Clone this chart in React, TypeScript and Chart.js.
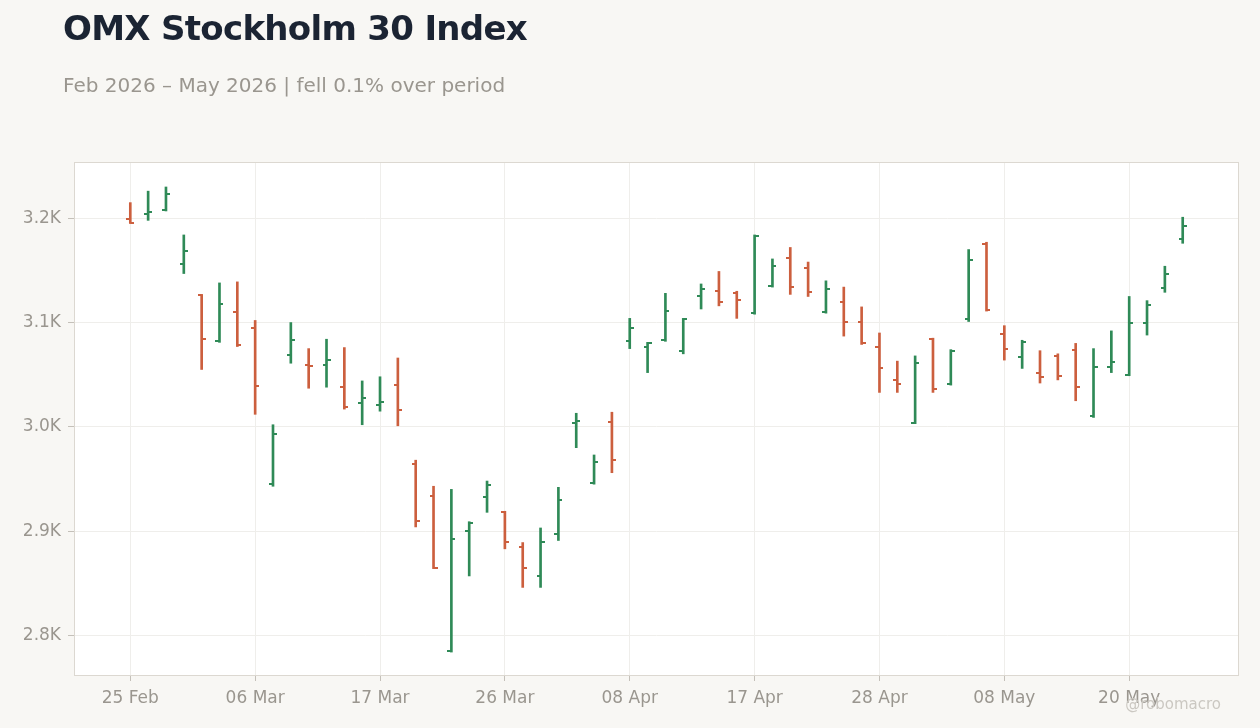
import Chart from "chart.js/auto";
import { useEffect, useRef } from "react";

// trading days, Feb–May 2026
const dates = [
  "25 Feb", "26 Feb", "27 Feb", "02 Mar", "03 Mar", "04 Mar", "05 Mar", "06 Mar",
  "09 Mar", "10 Mar", "11 Mar", "12 Mar", "13 Mar", "16 Mar", "17 Mar", "18 Mar",
  "19 Mar", "20 Mar", "23 Mar", "24 Mar", "25 Mar", "26 Mar", "27 Mar", "30 Mar",
  "31 Mar", "01 Apr", "02 Apr", "07 Apr", "08 Apr", "09 Apr", "10 Apr", "13 Apr",
  "14 Apr", "15 Apr", "16 Apr", "17 Apr", "20 Apr", "21 Apr", "22 Apr", "23 Apr",
  "24 Apr", "27 Apr", "28 Apr", "29 Apr", "30 Apr", "04 May", "05 May", "06 May",
  "07 May", "08 May", "11 May", "12 May", "13 May", "15 May", "18 May", "19 May",
  "20 May", "21 May", "22 May", "25 May",
];

const opens = [
  3199, 3204, 3208, 3156, 3126, 3082, 3110, 3095, 2945, 3069,
  3059, 3059, 3038, 3023, 3021, 3040, 2964, 2934, 2785, 2900,
  2933, 2918, 2885, 2857, 2897, 3004, 2946, 3005, 3082, 3077,
  3083, 3073, 3125, 3130, 3128, 3109, 3135, 3162, 3152, 3110,
  3120, 3101, 3077, 3045, 3004, 3084, 3041, 3103, 3175, 3089,
  3067, 3052, 3068, 3074, 3010, 3057, 3050, 3100, 3133, 3180,
];
const highs = [
  3215, 3226, 3230, 3184, 3127, 3138, 3139, 3102, 3002, 3100,
  3075, 3084, 3076, 3044, 3048, 3066, 2968, 2943, 2940, 2909,
  2948, 2919, 2889, 2903, 2942, 3013, 2973, 3014, 3104, 3081,
  3128, 3104, 3137, 3149, 3130, 3184, 3161, 3172, 3158, 3140,
  3134, 3115, 3090, 3063, 3068, 3085, 3074, 3170, 3177, 3097,
  3083, 3073, 3070, 3080, 3075, 3092, 3125, 3121, 3154, 3201,
];
const lows = [
  3195, 3198, 3207, 3147, 3055, 3081, 3077, 3012, 2943, 3061,
  3037, 3038, 3017, 3002, 3015, 3001, 2904, 2864, 2784, 2857,
  2918, 2883, 2846, 2846, 2891, 2980, 2945, 2956, 3075, 3052,
  3082, 3070, 3113, 3116, 3104, 3108, 3134, 3127, 3125, 3109,
  3087, 3079, 3033, 3033, 3003, 3033, 3040, 3101, 3111, 3064,
  3056, 3042, 3045, 3025, 3009, 3052, 3049, 3088, 3129, 3176,
];
const closes = [
  3195, 3206, 3223, 3169, 3084, 3118, 3078, 3039, 2993, 3083,
  3058, 3064, 3019, 3028, 3024, 3016, 2910, 2865, 2892, 2908,
  2944, 2890, 2865, 2890, 2930, 3006, 2966, 2968, 3095, 3080,
  3111, 3103, 3132, 3120, 3122, 3183, 3154, 3134, 3129, 3132,
  3101, 3080, 3056, 3041, 3061, 3036, 3073, 3160, 3112, 3075,
  3081, 3048, 3049, 3038, 3057, 3062, 3100, 3117, 3147, 3193,
];

const yTicks = [2800, 2900, 3000, 3100, 3200];
const labelEvery = 7;

const UP = "#2f8a57";
const DOWN = "#cc5f3e";
const MUTED = "#9a968f";
const FONT = "'DejaVu Sans', sans-serif";

function tickImage(color: string, side: "left" | "right") {
  const c = document.createElement("canvas");
  c.width = 8;
  c.height = 2;
  const g = c.getContext("2d")!;
  g.fillStyle = color;
  g.fillRect(side === "left" ? 0 : 4, 0, 4, 2);
  return c;
}

const plotFrame = {
  id: "plotFrame",
  beforeDraw(chart: Chart) {
    const { ctx, chartArea: a } = chart;
    ctx.save();
    ctx.fillStyle = "#ffffff";
    ctx.fillRect(a.left, a.top, a.right - a.left, a.bottom - a.top);
    ctx.restore();
  },
  beforeDatasetsDraw(chart: Chart) {
    const { ctx, chartArea: a } = chart;
    ctx.save();
    ctx.strokeStyle = "#dcd8d1";
    ctx.lineWidth = 1;
    ctx.strokeRect(a.left - 0.5, a.top - 0.5, a.right - a.left + 1, a.bottom - a.top + 1);
    ctx.restore();
  },
};

function OhlcChart() {
  const ref = useRef<HTMLCanvasElement>(null);

  useEffect(() => {
    if (!ref.current) return;
    const idx = dates.map((_, i) => i);
    const colors = idx.map((i) => (closes[i] >= opens[i] ? UP : DOWN));
    const openImgs = { [UP]: tickImage(UP, "left"), [DOWN]: tickImage(DOWN, "left") };
    const closeImgs = { [UP]: tickImage(UP, "right"), [DOWN]: tickImage(DOWN, "right") };

    const chart = new Chart(ref.current, {
      type: "bar",
      data: {
        datasets: [
          {
            type: "bar",
            label: "High-Low",
            data: idx.map((i) => ({ x: i, y: [lows[i], highs[i]] })) as any,
            backgroundColor: colors,
            barThickness: 2,
          },
          {
            type: "scatter",
            label: "Open",
            data: idx.map((i) => ({ x: i, y: opens[i] })),
            pointStyle: colors.map((c) => openImgs[c]) as any,
            pointRadius: 3,
          },
          {
            type: "scatter",
            label: "Close",
            data: idx.map((i) => ({ x: i, y: closes[i] })),
            pointStyle: colors.map((c) => closeImgs[c]) as any,
            pointRadius: 3,
          },
        ],
      },
      options: {
        animation: false,
        responsive: true,
        maintainAspectRatio: false,
        layout: { padding: { top: 163, right: 22, left: 0, bottom: 0 } },
        plugins: { legend: { display: false }, tooltip: { enabled: false } },
        scales: {
          x: {
            type: "linear",
            min: -3.1,
            max: 62.1,
            offset: false,
            afterBuildTicks: (axis: any) => {
              axis.ticks = idx
                .filter((i) => i % labelEvery === 0)
                .map((v) => ({ value: v }));
            },
            afterFit: (axis: any) => {
              axis.height = 53;
            },
            ticks: {
              autoSkip: false,
              maxRotation: 0,
              color: MUTED,
              font: { family: FONT, size: 17 },
              padding: 7,
              callback: (v: any) => dates[Number(v)] ?? "",
            },
            grid: { offset: false, color: "#efeeeb", tickColor: "#c4c0b9", tickLength: 6 },
            border: { display: false },
          },
          y: {
            min: 2762,
            max: 3253,
            afterBuildTicks: (axis: any) => {
              axis.ticks = yTicks.map((v) => ({ value: v }));
            },
            afterFit: (axis: any) => {
              axis.width = 75;
            },
            ticks: {
              color: MUTED,
              font: { family: FONT, size: 17 },
              padding: 7,
              callback: (v: any) => `${(Number(v) / 1000).toFixed(1)}K`,
            },
            grid: { color: "#efeeeb", tickColor: "#c4c0b9", tickLength: 7 },
            border: { display: false },
          },
        },
      },
      plugins: [plotFrame],
    });

    return () => {
      chart.destroy();
    };
  }, []);

  return <canvas ref={ref}></canvas>;
}

export default function App() {
  return (
    <div
      style={{
        position: "fixed",
        inset: 0,
        width: 1260,
        height: 728,
        background: "#f8f7f4",
        fontFamily: FONT,
        overflow: "hidden",
      }}
    >
      <div style={{ position: "absolute", left: 0, top: 0, width: 1260, height: 728 }}>
        <OhlcChart />
      </div>
      <div
        style={{
          position: "absolute",
          left: 63,
          top: 11,
          fontSize: 34,
          lineHeight: 1,
          fontWeight: 700,
          letterSpacing: "-0.7px",
          color: "#1b2433",
          whiteSpace: "nowrap",
        }}
      >
        OMX Stockholm 30 Index
      </div>
      <div
        style={{
          position: "absolute",
          left: 63,
          top: 75,
          fontSize: 20,
          lineHeight: 1,
          color: "#9a968f",
          whiteSpace: "nowrap",
        }}
      >
        Feb 2026 – May 2026 | fell 0.1% over period
      </div>
      <div
        style={{
          position: "absolute",
          right: 39,
          top: 697,
          fontSize: 15,
          lineHeight: 1,
          color: "#cbc8c2",
          whiteSpace: "nowrap",
        }}
      >
        @robomacro
      </div>
    </div>
  );
}
